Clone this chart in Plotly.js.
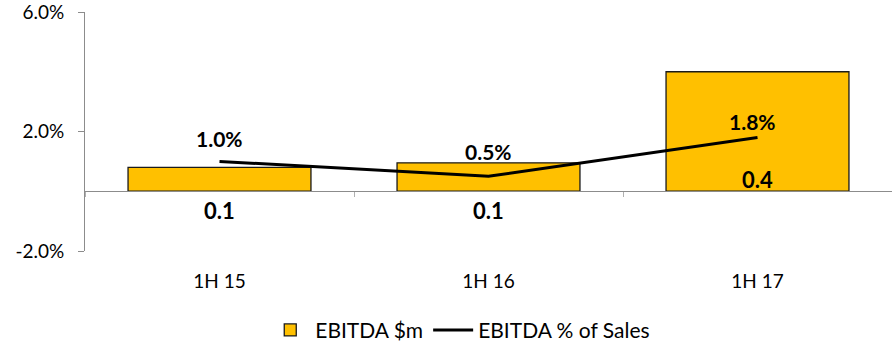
<!DOCTYPE html>
<html>
<head>
<meta charset="utf-8">
<script src="https://cdn.plot.ly/plotly-3.0.1.min.js"></script>
<style>
  html, body { margin: 0; padding: 0; background: #fff; }
  #chart { width: 892px; height: 344px; }
</style>
</head>
<body>
<div id="chart"></div>
<script>
// Half-year periods
const periods = ['1H 15', '1H 16', '1H 17'];
// EBITDA in $m (bars, hidden scale)
const ebitdaM = [0.08, 0.095, 0.4];
// EBITDA as % of sales (line, left scale)
const ebitdaPct = [1.0, 0.5, 1.8];
// Left axis ticks
const pctTicks = [-2, 2, 6];

const FONT = 'Lato, "Open Sans", sans-serif';
const AXIS_GREY = '#8c8c8c';

// Bars sit on the base axis so the percentage line is drawn over them
const bars = {
  type: 'bar',
  name: 'EBITDA $m',
  x: periods,
  y: ebitdaM,
  yaxis: 'y',
  width: 0.68,
  marker: { color: '#FFC000', line: { color: '#1a1a1a', width: 1.3 } },
  hoverinfo: 'skip'
};

const line = {
  type: 'scatter',
  mode: 'lines',
  name: 'EBITDA % of Sales',
  x: periods,
  y: ebitdaPct,
  yaxis: 'y2',
  line: { color: '#000', width: 3 },
  cliponaxis: false,
  hoverinfo: 'skip'
};

// Percentage labels above the line points
const pctShiftY = [23, 25, 16];
const pctShiftX = [0, 0, -5];
const pctLabels = periods.map((p, i) => ({
  x: p,
  y: ebitdaPct[i],
  xref: 'x',
  yref: 'y2',
  text: '<b>' + ebitdaPct[i].toFixed(1) + '%</b>',
  showarrow: false,
  yshift: pctShiftY[i],
  xshift: pctShiftX[i],
  font: { family: FONT, size: 21, color: '#000' }
}));

// Value labels for the bars: under the baseline when the bar is short, inside otherwise
const barLabels = periods.map((p, i) => ({
  x: p,
  y: 0,
  xref: 'x',
  yref: 'y',
  text: '<b>' + ebitdaM[i].toFixed(1) + '</b>',
  showarrow: false,
  yshift: ebitdaM[i] > 0.2 ? 12 : -19,
  font: { family: FONT, size: 22, color: '#000' }
}));

const layout = {
  width: 892,
  height: 344,
  margin: { l: 85, r: 0, t: 12, b: 93 },
  paper_bgcolor: '#fff',
  plot_bgcolor: '#fff',
  font: { family: FONT, size: 19, color: '#000' },
  showlegend: true,
  legend: {
    orientation: 'h',
    x: 0.465, xanchor: 'center',
    yref: 'container', y: 0.04, yanchor: 'middle',
    font: { family: FONT, size: 21, color: '#000' },
    itemwidth: 40,
    traceorder: 'normal'
  },
  xaxis: {
    type: 'category',
    anchor: 'free',
    position: 0.25,
    showline: true,
    linecolor: AXIS_GREY,
    linewidth: 1,
    ticks: 'outside',
    tickson: 'boundaries',
    ticklen: 5,
    tickcolor: '#b0b0b0',
    ticklabelstandoff: 73,
    tickfont: { family: FONT, size: 19, color: '#000' },
    showgrid: false,
    zeroline: false
  },
  yaxis: {
    range: [-0.2, 0.6],
    visible: false,
    showgrid: false,
    zeroline: false
  },
  yaxis2: {
    range: [-2, 6],
    overlaying: 'y',
    side: 'left',
    anchor: 'x',
    tickvals: pctTicks,
    ticktext: pctTicks.map(v => v.toFixed(1) + '%'),
    showline: true,
    linecolor: AXIS_GREY,
    linewidth: 1,
    ticks: 'outside',
    ticklen: 6,
    tickcolor: AXIS_GREY,
    ticklabelstandoff: 10,
    ticklabeloverflow: 'allow',
    showgrid: false,
    zeroline: false,
    tickfont: { family: FONT, size: 19, color: '#000' }
  },
  annotations: pctLabels.concat(barLabels)
};

Plotly.newPlot('chart', [bars, line], layout, { displayModeBar: false, staticPlot: true });
</script>
</body>
</html>
